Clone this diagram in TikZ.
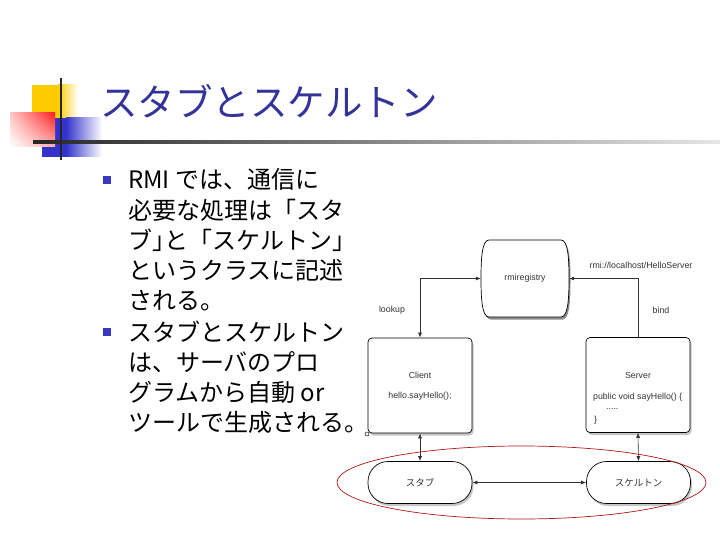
\documentclass[tikz,border=0pt]{standalone}
\usepackage{fontspec}
\setmainfont{Liberation Sans}
\newfontfamily\jp{Noto Sans CJK JP}
\newfontfamily\jph{Noto Sans CJK JP}[RawFeature=+halt]
\usetikzlibrary{arrows.meta,shapes.geometric,shadows,shadings}
\definecolor{titleblue}{HTML}{333399}
\definecolor{bulletblue}{HTML}{3838C0}
\definecolor{logoyellow}{HTML}{FFCC00}
\definecolor{logoblue}{HTML}{3333CC}
\definecolor{logored}{HTML}{FF2020}
\definecolor{redline}{HTML}{B01818}
\begin{document}
\begin{tikzpicture}[x=1pt,y=-1pt,
  slidetext/.style={anchor=base west, inner sep=0, font=\jp\fontsize{24}{30}\selectfont, text=black},
  bulletsq/.style={fill=bulletblue, minimum size=8pt, inner sep=0},
  box/.style={draw=black, line width=0.7pt, fill=white, rounded corners=4pt,
    drop shadow={shadow xshift=1.5pt, shadow yshift=-2.5pt, fill=black!45},
    minimum width=104pt, minimum height=95pt, inner sep=0},
  pill/.style={draw=black, line width=0.7pt, fill=white, rounded corners=20pt,
    drop shadow={shadow xshift=1.5pt, shadow yshift=-2.5pt, fill=black!45},
    minimum width=104pt, minimum height=42pt, inner sep=0,
    font=\jp\fontsize{9.5}{11}\selectfont, text=black!80},
  lbl/.style={font=\fontsize{8.8}{10}\selectfont, text=black!80, inner sep=0},
  conn/.style={line width=0.6pt, black!80},
  tip/.tip={Latex[length=5pt,width=4pt]}
]
\useasboundingbox (0,0) rectangle (720,540);
\fill[white] (0,0) rectangle (720,540);

% logo
\fill[logoyellow] (32,85) rectangle (58,118);
\shade[left color=logoyellow, right color=white] (58,85) rectangle (78,118);
\fill[logoblue] (42,118) rectangle (66,157);
\shade[left color=logoblue, right color=white] (66,118) rectangle (102,157);
\shade[upper left=logored!25, upper right=logored, lower left=white, lower right=logored!35] (10,113) rectangle (55,147);
\shade[left color=black!85, right color=black!10] (33,140.8) rectangle (720,143.2);
\draw[line width=2.5pt, black!85] (61,78) -- (61,160);

% title
\node[anchor=base west, inner sep=0, font=\jp\fontsize{37.5}{40}\selectfont, text=titleblue] (title) at (100,117) {スタブとスケルトン};

% bullets
\node[bulletsq] (b1) at (107,180) {};
\node[bulletsq] (b2) at (107,332) {};
\foreach \i/\yy/\t in {1/180/{RMI では、通信に},2/210/{必要な処理は「スタ},3/240/{ブ{\jph 」}と「スケルトン」},4/270/{というクラスに記述},5/300/{される。},6/332/{スタブとスケルトン},7/362/{は、サーバのプロ},8/392/{グラムから自動 or},9/422/{ツールで生成される。}}
  \node[slidetext] (l\i) at (128,\yy+9) {\t};

% rmiregistry
\path[fill=black!45, shift={(1.5,2.5)}] (489,240) -- (561,240) .. controls (568,240) and (569,258) .. (569,278.5) .. controls (569,299) and (568,317) .. (561,317) -- (489,317) .. controls (482,317) and (481,299) .. (481,278.5) .. controls (481,258) and (482,240) .. (489,240) -- cycle;
\draw[line width=0.7pt, fill=white] (489,240) -- (561,240) .. controls (568,240) and (569,258) .. (569,278.5) .. controls (569,299) and (568,317) .. (561,317) -- (489,317) .. controls (482,317) and (481,299) .. (481,278.5) .. controls (481,258) and (482,240) .. (489,240) -- cycle;
\node[lbl, minimum width=88pt, minimum height=77pt] (reg) at (525,278.5) {rmiregistry};

% boxes
\node[box] (client) at (420,385.5) {};
\node[box] (server) at (638,385) {};
\node[pill] (stub) at (420,482.5) {スタブ};
\node[pill] (skel) at (638.5,482.5) {スケルトン};

\node[lbl] (ctitle) at (420,375) {Client};
\node[lbl] (ccode) at (420,396) {hello.sayHello();};
\node[lbl] (stitle) at (638,375) {Server};
\node[lbl, anchor=west] (scode1) at (593,397) {public void sayHello() \{};
\node[lbl, anchor=west] (scode2) at (606,409) {.....};
\node[lbl, anchor=west] (scode3) at (594,420) {\}};

\node[circle, draw, fill=white, minimum size=4pt, inner sep=0, line width=0.5pt] (dot) at (367,434) {};

% labels
\node[lbl] (lookup) at (392,310) {lookup};
\node[lbl] (bind) at (661,310) {bind};
\node[lbl] (url) at (641,265) {rmi://localhost/HelloServer};

% connectors
\draw[conn, tip-tip] (reg.west) -| (client.north);
\draw[conn, -tip] (server.north) |- (reg.east);
\draw[conn, tip-tip] (client.south) -- (stub.north);
\draw[conn, tip-tip] (server.south) -- (skel.north);
\draw[conn, tip-tip] (stub.east) -- (skel.west);

% red ellipse
\node[ellipse, draw=redline, line width=0.7pt, minimum width=369pt, minimum height=73pt, inner sep=0] (oval) at (521.5,482.5) {};
\end{tikzpicture}
\end{document}
